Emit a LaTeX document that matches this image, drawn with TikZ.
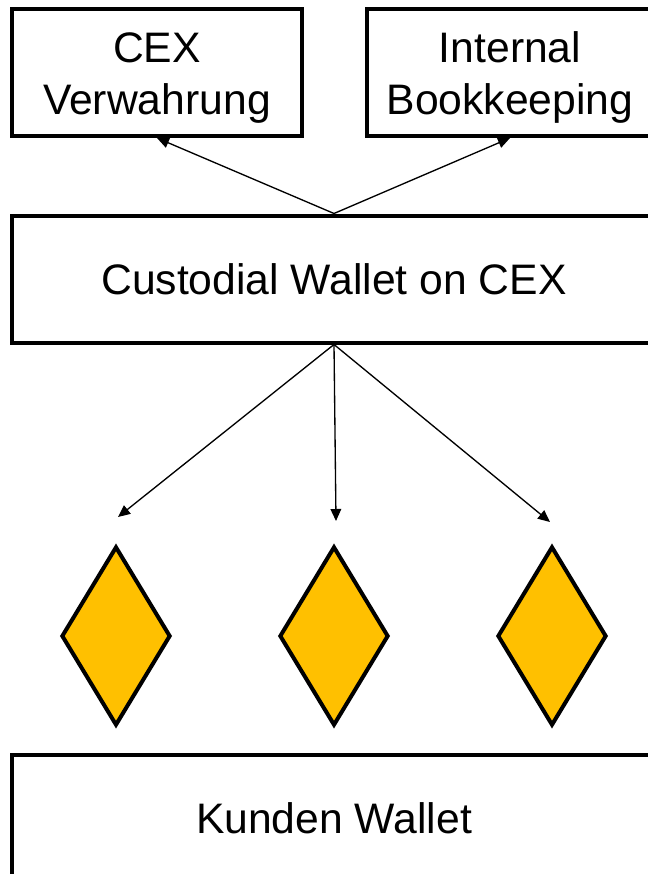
\documentclass[tikz,border=0pt]{standalone}
\usepackage{fontspec}
\setmainfont{Liberation Sans}
\usetikzlibrary{positioning,shapes.geometric,arrows.meta}

\definecolor{coin}{HTML}{FFC000}

% lifts the first of two lines so the pair sits lower in its box
\newcommand{\toprule}{\rule{0pt}{31pt}}

\tikzset{
  box/.style={draw, line width=3pt, align=center, inner sep=0pt,
    font=\fontsize{32}{39}\selectfont},
  coinshape/.style={draw, diamond, fill=coin, line width=3pt, inner sep=0pt,
    minimum width=109*0.75pt, minimum height=179*0.75pt},
}

\begin{document}
\begin{tikzpicture}[x=0.75pt,y=-0.75pt,>={Triangle[length=9pt,width=8pt]}]
  \useasboundingbox (0,0) rectangle (648,874);
  \clip (0,0) rectangle (648,874);
  \node[box, minimum width=290*0.75pt, minimum height=127*0.75pt] (cex) at (157,72.5) {\toprule CEX\\Verwahrung};
  \node[box, minimum width=286*0.75pt, minimum height=127*0.75pt] (book) at (510,72.5) {\toprule Internal\\Bookkeeping};
  \node[box, minimum width=644*0.75pt, minimum height=127*0.75pt] (cust) at (334,279) {Custodial Wallet on CEX};
  \node[coinshape] (c1) at (116,636) {};
  \node[coinshape] (c2) at (334,636) {};
  \node[coinshape] (c3) at (552,636) {};
  \node[box, minimum width=644*0.75pt, minimum height=126*0.75pt] (kunde) at (334,818) {Kunden Wallet};
  \coordinate (e1) at (118,517);
  \coordinate (e2) at (336,521);
  \coordinate (e3) at (550,522);
  \draw[->, line width=1pt] (cust.north) -- (cex.south);
  \draw[->, line width=1pt] (cust.north) -- (book.south);
  \draw[->, line width=1pt] (cust.south) -- (e1);
  \draw[->, line width=1pt] (cust.south) -- (e2);
  \draw[->, line width=1pt] (cust.south) -- (e3);
\end{tikzpicture}
\end{document}
